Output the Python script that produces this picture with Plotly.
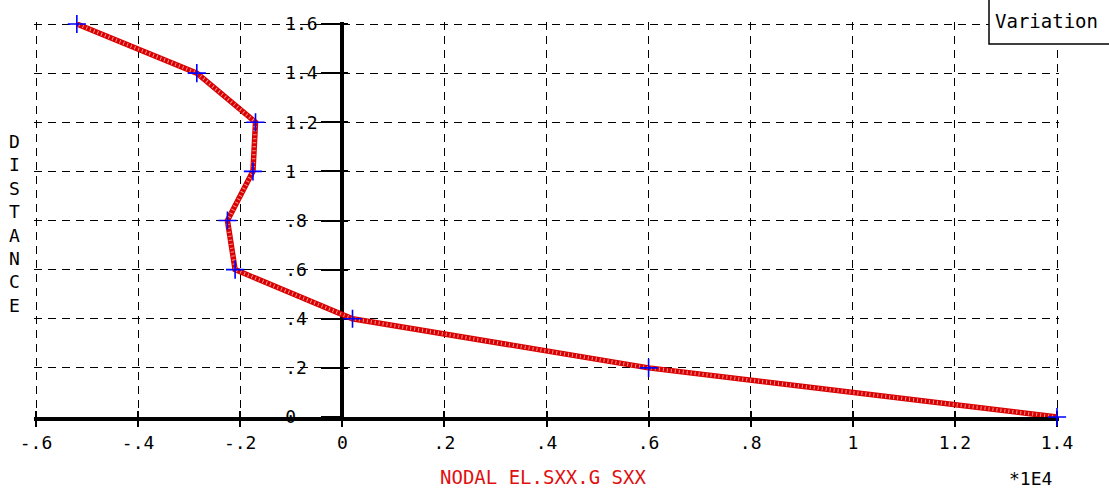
import plotly.graph_objects as go

# ---- data (x in units of 1E4) ----
distance = [0.0, 0.2, 0.4, 0.6, 0.8, 1.0, 1.2, 1.4, 1.6]
sxx = [1.40, 0.60, 0.02, -0.21, -0.225, -0.175, -0.17, -0.285, -0.52]

x_tick_vals = [-0.6, -0.4, -0.2, 0.0, 0.2, 0.4, 0.6, 0.8, 1.0, 1.2, 1.4]
x_tick_text = ["-.6", "-.4", "-.2", "0", ".2", ".4", ".6", ".8", "1", "1.2", "1.4"]
y_tick_vals = [0.0, 0.2, 0.4, 0.6, 0.8, 1.0, 1.2, 1.4, 1.6]
y_tick_text = ["0", ".2", ".4", ".6", ".8", "1", "1.2", "1.4", "1.6"]

x_title = "NODAL EL.SXX.G SXX"
y_title = "DISTANCE"
legend_text = "Variation"
scale_text = "*1E4"

MONO = "DejaVu Sans Mono"

# canvas geometry (pixels)
W, H = 1109, 488
XMIN, XMAX = -0.6, 1.4
YMIN, YMAX = 0.0, 1.6
X_LEFT_PX, X_RIGHT_PX = 36, 1057      # pixel of XMIN / XMAX
Y_BOT_PX, Y_TOP_PX = 417, 24          # pixel of YMIN / YMAX
EXT = 2                               # small extension so edge gridlines show

ppx = (X_RIGHT_PX - X_LEFT_PX) / (XMAX - XMIN)
ppy = (Y_BOT_PX - Y_TOP_PX) / (YMAX - YMIN)
L = X_LEFT_PX - EXT
R = W - (X_RIGHT_PX + EXT)
T = Y_TOP_PX - EXT
B = H - Y_BOT_PX
x_range = [XMIN - EXT / ppx, XMAX + EXT / ppx]
y_range = [YMIN, YMAX + EXT / ppy]
PW = W - L - R
PH = H - T - B


def px(xp):
    return (xp - L) / PW


def py(yp):
    return (H - B - yp) / PH


y_axis_pos = px(X_LEFT_PX + (0 - XMIN) * ppx)
y_text_padded = [t + "\u00a0" * (3 - len(t)) for t in y_tick_text]

fig = go.Figure()

fig.add_trace(go.Scatter(
    x=sxx, y=distance, mode="lines",
    line=dict(color="#d80000", width=5.5),
    hoverinfo="skip", showlegend=False,
))
fig.add_trace(go.Scatter(
    x=sxx, y=distance, mode="lines",
    line=dict(color="rgba(255,185,185,0.8)", width=3.5, dash="1px,3px"),
    hoverinfo="skip", showlegend=False,
))
fig.add_trace(go.Scatter(
    x=sxx, y=distance, mode="markers",
    marker=dict(symbol="cross-thin", size=13,
                line=dict(color="#0000ff", width=1.6)),
    cliponaxis=False, showlegend=False,
))
# invisible traces hosting overlay axes (ticks on the other side of the axis lines)
fig.add_trace(go.Scatter(
    x=sxx, y=distance, xaxis="x2", mode="markers",
    marker=dict(opacity=0), hoverinfo="skip", showlegend=False,
))
fig.add_trace(go.Scatter(
    x=sxx, y=distance, yaxis="y2", mode="markers",
    marker=dict(opacity=0), hoverinfo="skip", showlegend=False,
))

grid_dash = "8px,6px"

fig.update_layout(
    width=W, height=H,
    margin=dict(l=L, r=R, t=T, b=B, pad=0),
    paper_bgcolor="white", plot_bgcolor="white",
    font=dict(family=MONO, size=18, color="black"),
    xaxis=dict(
        range=x_range, domain=[0, 1], anchor="y",
        tickmode="array", tickvals=x_tick_vals, ticktext=x_tick_text,
        showgrid=True, gridcolor="black", gridwidth=1, griddash=grid_dash,
        showline=True, linecolor="black", linewidth=4,
        ticks="outside", ticklen=6, tickwidth=1.5, tickcolor="black",
        zeroline=False, layer="below traces",
        tickfont=dict(family=MONO, size=18, color="black"),
    ),
    xaxis2=dict(
        range=x_range, overlaying="x", matches="x", anchor="y", side="bottom",
        tickmode="array", tickvals=x_tick_vals,
        showticklabels=False, showgrid=False, showline=False, zeroline=False,
        ticks="inside", ticklen=6, tickwidth=1.5, tickcolor="black",
        layer="below traces",
    ),
    yaxis=dict(
        range=y_range, anchor="free", position=y_axis_pos,
        tickmode="array", tickvals=y_tick_vals, ticktext=y_text_padded,
        showgrid=True, gridcolor="black", gridwidth=1, griddash=grid_dash,
        showline=True, linecolor="black", linewidth=4,
        ticks="outside", ticklen=19, tickwidth=1.5, tickcolor="black",
        zeroline=False, layer="below traces",
        tickfont=dict(family=MONO, size=18, color="black"),
    ),
    yaxis2=dict(
        range=y_range, overlaying="y", matches="y", anchor="free",
        position=y_axis_pos, side="left",
        tickmode="array", tickvals=y_tick_vals,
        showticklabels=False, showgrid=False, showline=False, zeroline=False,
        ticks="inside", ticklen=5, tickwidth=1.5, tickcolor="black",
        layer="below traces",
    ),
    shapes=[dict(
        type="rect", xref="paper", yref="paper",
        x0=px(989), x1=px(1200), y0=py(44), y1=py(-20),
        line=dict(color="black", width=1.5), fillcolor="white", layer="above",
    )],
    annotations=[
        dict(text=legend_text, xref="paper", yref="paper",
             x=px(993), y=py(21), xanchor="left", yanchor="middle",
             showarrow=False, font=dict(family=MONO, size=19, color="black")),
        dict(text="<br>".join(list(y_title)), xref="paper", yref="paper",
             x=px(14), y=py(223), xanchor="center", yanchor="middle",
             showarrow=False, align="center",
             font=dict(family=MONO, size=18, color="black")),
        dict(text=x_title, xref="paper", yref="paper",
             x=px(543), y=py(477), xanchor="center", yanchor="middle",
             showarrow=False, font=dict(family=MONO, size=19, color="#e01010")),
        dict(text=scale_text, xref="paper", yref="paper",
             x=px(1030), y=py(478), xanchor="center", yanchor="middle",
             showarrow=False, font=dict(family=MONO, size=18, color="black")),
    ],
)

fig.write_html("out.html", config={"displayModeBar": False},
               post_script="document.body.style.margin='0';")
